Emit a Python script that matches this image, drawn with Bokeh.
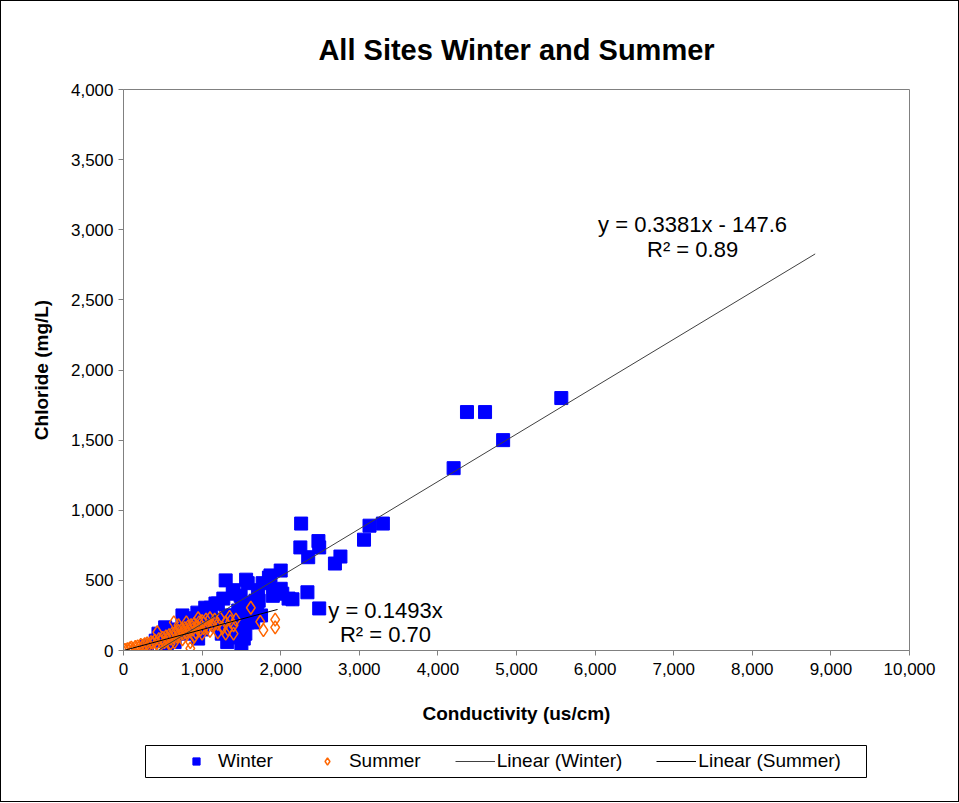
from bokeh.plotting import figure
from bokeh.layouts import column
from bokeh.models import (Range1d, NumeralTickFormatter, FixedTicker, Legend, LegendItem,
                          Label, BoxAnnotation)
from bokeh.embed import file_html
from bokeh.resources import INLINE

# ---- data ----
winter_x = [5570, 4370, 4600, 4830, 4200,
            2260, 3130, 3300, 3060, 2250, 2480, 2490, 2350, 2760, 2690,
            2000, 1870, 1300, 1560, 1580, 1770, 1850, 1940, 2150, 2340, 2490, 2000, 2020,
            1400, 1270, 1490, 1710, 1720, 1640, 1900, 1110, 1200, 1460, 1700,
            1390, 1510, 1680, 1170, 1040, 940, 750, 850, 1110, 1170, 1400, 1490, 1580,
            1510, 1530, 1340, 1320, 950, 620, 530, 445, 410,
            600, 700, 800, 900, 1000, 1100, 1200, 1300, 1000, 800, 650, 550, 300,
            1250, 1450, 1550, 1500, 1600, 1750, 1650, 1425, 1527, 1552, 2100]
winter_y = [1800, 1700, 1700, 1500, 1300,
            905, 890, 905, 790, 735, 780, 735, 665, 670, 620,
            570, 535, 500, 505, 480, 480, 520, 430, 365, 415, 300, 440, 405,
            430, 370, 390, 430, 355, 335, 390, 305, 335, 285, 305,
            405, 340, 355, 335, 305, 270, 250, 230, 230, 215, 250, 265, 200,
            105, 85, 145, 60, 85, 130, 165, 120, 70,
            100, 150, 120, 180, 150, 200, 180, 250, 250, 200, 60, 40, 30,
            120, 160, 120, 50, 260, 250, 200, 93, 121, 264, 370]

summer_x = [20, 50, 80, 100, 120, 150, 180, 200, 220, 250, 270, 300, 320, 350, 370,
            400, 420, 450, 470, 500, 520, 540, 560, 580, 600, 620, 640, 660, 680, 700,
            720, 740, 760, 780, 800, 820, 840, 860, 880, 900, 920, 940, 960, 980, 1000,
            1020, 1050, 1080, 1100, 1130, 1160, 1200, 1230, 1260, 1300, 1330, 1360, 1400,
            1430, 1000, 900, 750, 600, 450, 850, 1100, 1200, 1300, 700, 800, 950, 650,
            530, 850, 640, 430, 1620, 1740, 1930, 1780, 1930, 1400, 1350]
summer_y = [5, 10, 15, 20, 10, 25, 30, 20, 40, 35, 45, 50, 40, 60, 55,
            70, 50, 80, 65, 90, 60, 100, 75, 110, 85, 120, 95, 130, 100, 140,
            110, 150, 120, 160, 130, 170, 140, 180, 150, 190, 130, 170, 200, 150, 210,
            160, 220, 170, 230, 180, 220, 190, 230, 160, 200, 150, 210, 180,
            220, 120, 100, 80, 50, 30, 60, 140, 130, 120, 180, 200, 230, 60,
            0, 15, 200, 130, 305, 205, 220, 145, 165, 120, 240]

# trendlines: slope, intercept, x extent
winter_fit = (0.3381, -147.6)
winter_fit_x = [437, 8800]
summer_fit = (0.1493, 0.0)
summer_fit_x = [0, 1960]

x_ticks = list(range(0, 10001, 1000))
y_ticks = list(range(0, 4001, 500))

legend_labels = ["Winter", "Summer", "Linear (Winter)", "Linear (Summer)"]

FONT = "Liberation Sans"
WINTER_STYLE = dict(marker="square", size=13, fill_color="#0000FF", line_color="#0000FF")
SUMMER_STYLE = dict(marker="diamond", size=13, fill_color=None, line_color="#FF6600", line_width=1.5)
WLINE_STYLE = dict(line_color="#404040", line_width=1)
SLINE_STYLE = dict(line_color="#000000", line_width=1)

p = figure(frame_width=786, frame_height=561, output_backend="svg", toolbar_location=None,
           x_range=Range1d(0, 10000), y_range=Range1d(0, 4000),
           min_border_left=122, min_border_right=49, min_border_top=88, min_border_bottom=75)

p.title.text = "All Sites Winter and Summer"
p.title.align = "center"
p.title.text_font = FONT
p.title.text_font_size = "29px"
p.title.text_font_style = "bold"
p.title.text_color = "black"
p.title.standoff = 48

p.xgrid.visible = False
p.ygrid.visible = False
p.outline_line_color = "#808080"
p.outline_line_width = 1

for ax in (p.xaxis[0], p.yaxis[0]):
    ax.formatter = NumeralTickFormatter(format="0,0")
    ax.axis_line_color = "#808080"
    ax.major_tick_line_color = "#808080"
    ax.major_tick_out = 5
    ax.major_tick_in = 0
    ax.minor_tick_line_color = None
    ax.major_label_text_font = FONT
    ax.major_label_text_font_size = "17px"
    ax.major_label_text_color = "black"
    ax.axis_label_text_font = FONT
    ax.axis_label_text_font_size = "19px"
    ax.axis_label_text_font_style = "bold"
    ax.axis_label_text_color = "black"

p.xaxis[0].ticker = FixedTicker(ticks=x_ticks)
p.yaxis[0].ticker = FixedTicker(ticks=y_ticks)
p.xaxis[0].axis_label = "Conductivity (us/cm)"
p.yaxis[0].axis_label = "Chloride (mg/L)"
p.xaxis[0].major_label_standoff = 7
p.yaxis[0].major_label_standoff = 5
p.xaxis[0].axis_label_standoff = 25
p.yaxis[0].axis_label_standoff = 16

p.scatter(winter_x, winter_y, **WINTER_STYLE)
p.scatter(summer_x, summer_y, **SUMMER_STYLE)

wl_y = [winter_fit[0] * x + winter_fit[1] for x in winter_fit_x]
sl_y = [summer_fit[0] * x + summer_fit[1] for x in summer_fit_x]
p.line(winter_fit_x, wl_y, **WLINE_STYLE)
p.line(summer_fit_x, sl_y, **SLINE_STYLE)

# trendline equations
eq_style = dict(text_font=FONT, text_font_size="22px", text_align="center",
                text_baseline="middle", text_color="black")
p.add_layout(Label(x=7240, y=3037, text="y = 0.3381x - 147.6", **eq_style))
p.add_layout(Label(x=7240, y=2859, text="R² = 0.89", **eq_style))
p.add_layout(Label(x=3333, y=285, text="y = 0.1493x", **eq_style))
p.add_layout(Label(x=3333, y=114, text="R² = 0.70", **eq_style))

# ---- legend strip below the chart (proxy renderers lie outside its view) ----
lf = figure(width=957, height=75, output_backend="svg", toolbar_location=None,
            x_range=Range1d(-2, -1), y_range=Range1d(-2, -1),
            min_border=0, min_border_left=0, min_border_right=0,
            min_border_top=0, min_border_bottom=0)
lf.axis.visible = False
lf.xgrid.visible = False
lf.ygrid.visible = False
lf.outline_line_color = None

r1 = lf.scatter(winter_x[:1], winter_y[:1], **WINTER_STYLE)
r2 = lf.scatter(summer_x[:1], summer_y[:1], **SUMMER_STYLE)
r3 = lf.line(winter_fit_x, wl_y, **WLINE_STYLE)
r4 = lf.line(summer_fit_x, sl_y, **SLINE_STYLE)

# legend frame box (screen units, relative to the strip's frame)
lf.add_layout(BoxAnnotation(left=22, right=743, bottom=24, top=56,
                            left_units="screen", right_units="screen",
                            bottom_units="screen", top_units="screen",
                            fill_color=None, fill_alpha=0,
                            line_color="black", line_width=1, line_alpha=1))

legend = Legend(items=[LegendItem(label=t, renderers=[r]) for t, r in
                       zip(legend_labels, [r1, r2, r3, r4])],
                orientation="horizontal", location=(53, 29))
legend.label_text_font = FONT
legend.label_text_font_size = "19px"
legend.label_text_color = "black"
legend.glyph_width = 40
legend.glyph_height = 18
legend.spacing = 34
legend.padding = 6
legend.margin = 0
legend.border_line_color = None
legend.background_fill_alpha = 0
legend.label_standoff = 2
lf.add_layout(legend, "center")

layout = column(p, lf, spacing=0)
layout.styles = {"border": "1px solid black"}

open("out.html", "w").write(file_html(layout, INLINE))
